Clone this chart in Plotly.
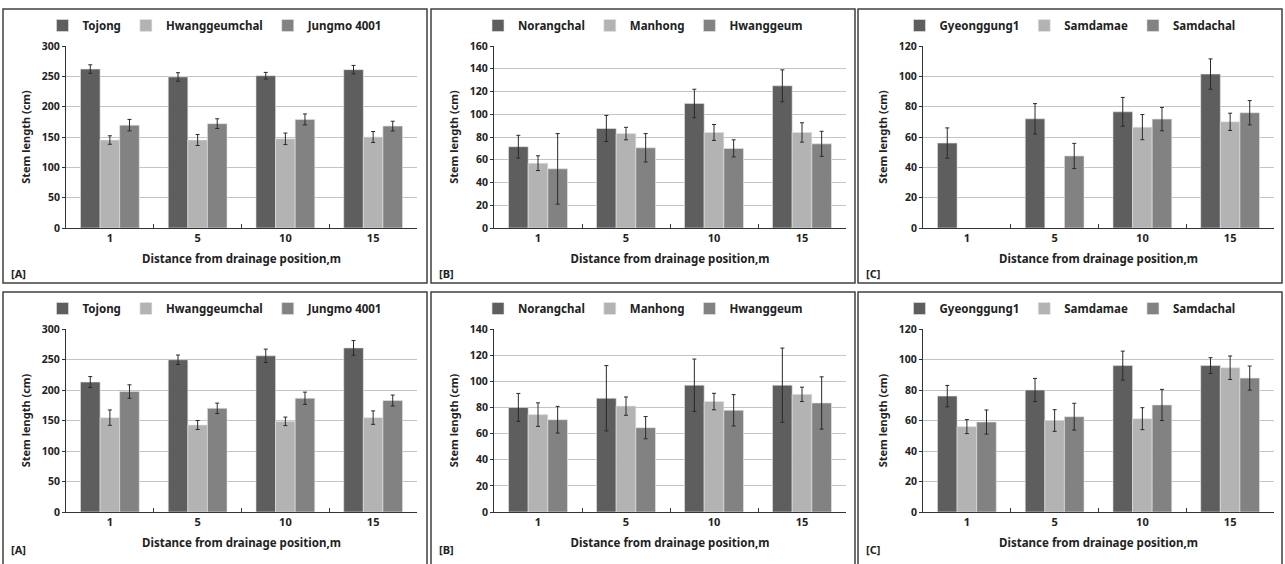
import plotly.graph_objects as go

distances = ["1", "5", "10", "15"]

# Top row
a1_names = ["Tojong", "Hwanggeumchal", "Jungmo 4001"]
a1_tojong = [262, 249, 251, 261]
a1_tojong_err = [7, 7, 5.5, 7]
a1_hwang = [145, 145, 147, 150]
a1_hwang_err = [7, 9, 9.5, 9]
a1_jungmo = [169.5, 172, 179, 168]
a1_jungmo_err = [9.5, 8, 9, 8]

b1_names = ["Norangchal", "Manhong", "Hwanggeum"]
b1_norang = [71.5, 87.5, 109.5, 125]
b1_norang_err = [10, 11.5, 12.5, 14]
b1_manhong = [57, 83, 84, 84]
b1_manhong_err = [6.5, 5.5, 7, 8.5]
b1_hwang = [52, 70.5, 70, 74]
b1_hwang_err = [31, 12.5, 7.5, 11]

c1_names = ["Gyeonggung1", "Samdamae", "Samdachal"]
c1_gyeong = [56, 72, 76.6, 101.5]
c1_gyeong_err = [10, 10, 9.5, 10]
c1_samdamae = [None, None, 66.5, 70]
c1_samdamae_err = [None, None, 8.3, 5.7]
c1_samdachal = [None, 47.5, 71.8, 76]
c1_samdachal_err = [None, 8.3, 7.7, 8]

# Bottom row
a2_tojong = [213, 249.6, 256, 269]
a2_tojong_err = [9, 7.7, 11, 12]
a2_hwang = [154.7, 142.6, 148.6, 154.7]
a2_hwang_err = [12.6, 7.4, 7, 11]
a2_jungmo = [197.5, 170, 186.5, 182.7]
a2_jungmo_err = [11, 8.5, 10, 9]

b2_norang = [80, 87, 97, 97]
b2_norang_err = [10.7, 25, 20, 28.4]
b2_manhong = [74.5, 81, 84.5, 90]
b2_manhong_err = [9, 7, 6.3, 5.5]
b2_hwang = [70.6, 64.5, 77.8, 83.4]
b2_hwang_err = [10.2, 8.5, 12, 20]

c2_gyeong = [76, 80, 96, 96]
c2_gyeong_err = [7, 7.6, 9.5, 5.2]
c2_samdamae = [56, 60, 61.2, 94.6]
c2_samdamae_err = [4.6, 7.1, 7.2, 7.7]
c2_samdachal = [59, 62.5, 70.2, 87.8]
c2_samdachal_err = [7.9, 8.8, 10.2, 7.9]

panel_labels = ["[A]", "[B]", "[C]", "[A]", "[B]", "[C]"]
y_ranges = [300, 160, 120, 300, 140, 120]
y_dticks = [50, 20, 20, 50, 20, 20]

panels = [
    (a1_names, [a1_tojong, a1_hwang, a1_jungmo], [a1_tojong_err, a1_hwang_err, a1_jungmo_err]),
    (b1_names, [b1_norang, b1_manhong, b1_hwang], [b1_norang_err, b1_manhong_err, b1_hwang_err]),
    (c1_names, [c1_gyeong, c1_samdamae, c1_samdachal], [c1_gyeong_err, c1_samdamae_err, c1_samdachal_err]),
    (a1_names, [a2_tojong, a2_hwang, a2_jungmo], [a2_tojong_err, a2_hwang_err, a2_jungmo_err]),
    (b1_names, [b2_norang, b2_manhong, b2_hwang], [b2_norang_err, b2_manhong_err, b2_hwang_err]),
    (c1_names, [c2_gyeong, c2_samdamae, c2_samdachal], [c2_gyeong_err, c2_samdamae_err, c2_samdachal_err]),
]

W, H = 1285, 564
colors = ["#5e5e5e", "#b3b3b3", "#828282"]
FONT = "Noto Sans"

# pixel geometry: plot areas and panel boxes
plot_x = [(66, 417), (494, 846), (923, 1274)]
plot_y = [(46, 228), (329, 512)]
box_x = [(3, 427), (431, 855), (858, 1282)]
box_y = [(9, 283), (292, 570)]


def px(x):
    return x / W


def py(y):
    return 1 - y / H


fig = go.Figure()
layout = dict(
    width=W, height=H, margin=dict(l=0, r=0, t=0, b=0, autoexpand=False),
    paper_bgcolor="white", plot_bgcolor="white",
    barmode="group", bargap=0.33, bargroupgap=0,
    font=dict(family=FONT, color="#222222"),
    shapes=[], annotations=[],
)

for i, (names, vals, errs) in enumerate(panels):
    row, col = divmod(i, 3)
    k = i + 1
    xa = "x" if k == 1 else f"x{k}"
    ya = "y" if k == 1 else f"y{k}"
    lg = "legend" if k == 1 else f"legend{k}"
    for j in range(3):
        fig.add_trace(go.Bar(
            x=distances, y=vals[j], name=names[j],
            marker=dict(color=colors[j], line=dict(width=0.6, color="#e6e6e6")),
            error_y=dict(type="data", array=errs[j], visible=True,
                         color="#2a2a2a", thickness=1, width=2),
            xaxis=xa, yaxis=ya, legend=lg,
        ))
    x0, x1 = plot_x[col]
    y0, y1 = plot_y[row]
    layout["xaxis" if k == 1 else f"xaxis{k}"] = dict(
        domain=[px(x0), px(x1)], anchor=ya, type="category", automargin=False,
        showline=True, linecolor="#333333", linewidth=1,
        ticks="inside", ticklen=4, tickcolor="#333333", tickson="boundaries",
        showgrid=False,
        tickfont=dict(size=11, weight="bold", family=FONT),
        title=dict(text="Distance from drainage position,m",
                   font=dict(size=11.5, weight="bold", family=FONT), standoff=10),
    )
    layout["yaxis" if k == 1 else f"yaxis{k}"] = dict(
        domain=[py(y1), py(y0)], anchor=xa, automargin=False,
        range=[0, y_ranges[i]], dtick=y_dticks[i],
        showline=True, linecolor="#333333", linewidth=1,
        ticks="outside", ticklen=3, tickcolor="#333333",
        showgrid=True, gridcolor="#c4c4c4", gridwidth=1,
        zeroline=False,
        tickfont=dict(size=10.5, weight="bold", family=FONT),
        title=dict(text="Stem length (cm)",
                   font=dict(size=11, weight="bold", family=FONT), standoff=9),
    )
    bx0, bx1 = box_x[col]
    by0, by1 = box_y[row]
    layout[lg] = dict(
        orientation="h", x=px((bx0 + bx1) / 2), xanchor="center",
        y=py(by0 + 2), yanchor="top",
        font=dict(size=11.5, weight="bold", family=FONT),
        itemwidth=30, tracegroupgap=0, bgcolor="rgba(0,0,0,0)",
    )
    layout["shapes"].append(dict(
        type="rect", xref="paper", yref="paper",
        x0=px(bx0), x1=px(bx1), y0=py(by1), y1=py(by0),
        line=dict(color="#404040", width=1.5), fillcolor="rgba(0,0,0,0)",
        layer="above",
    ))
    layout["annotations"].append(dict(
        text=panel_labels[i], xref="paper", yref="paper",
        x=px(bx0 + 6), y=py(by0 + 264 if row == 0 else by0 + 257),
        xanchor="left", yanchor="middle", showarrow=False,
        font=dict(size=11, weight="bold", family=FONT),
    ))

fig.update_layout(**layout)
fig.write_html(
    "out.html",
    config={"displayModeBar": False},
    post_script="document.body.style.margin='0';document.body.style.overflow='hidden';",
)
